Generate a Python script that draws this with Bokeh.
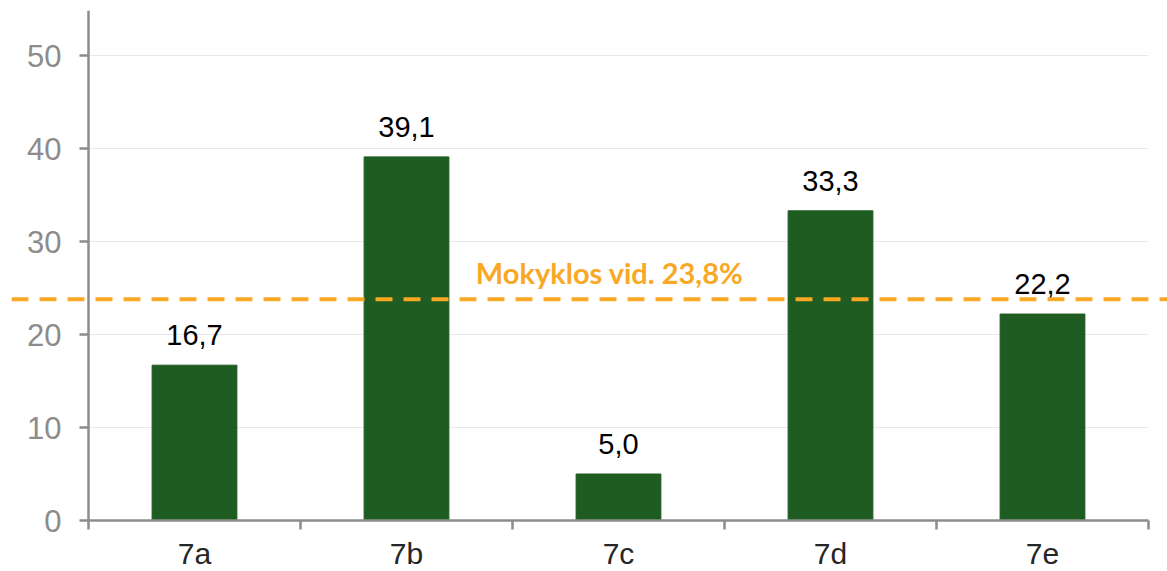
from bokeh.plotting import figure
from bokeh.models import (Range1d, LinearAxis, FixedTicker, Span, ColumnDataSource, Grid)
from bokeh.core.properties import value
from bokeh.embed import file_html
from bokeh.resources import INLINE

categories = ["7a", "7b", "7c", "7d", "7e"]
values = [16.7, 39.1, 5.0, 33.3, 22.2]
y_ticks = [0, 10, 20, 30, 40, 50]
mean_value = 23.8
mean_label = "Mokyklos vid. 23,8%"

GREEN = "#1e5c21"
ORANGE = "#f9a825"
AXIS = "#8c8c8c"

Y_TOP = 54.84
centers = [i + 0.5 for i in range(len(categories))]
labels = [f"{v:.1f}".replace(".", ",") for v in values]
src = ColumnDataSource(dict(x=centers, top=values, label=labels, cat=categories))

p = figure(width=1167, height=571, output_backend="svg", toolbar_location=None,
           x_range=Range1d(-0.3632, 5.0896), y_range=Range1d(-5.484, Y_TOP),
           x_axis_type=None, y_axis_type=None,
           min_border_left=11, min_border_right=0, min_border_top=10, min_border_bottom=0)
p.outline_line_color = None
p.background_fill_color = "white"
p.border_fill_color = "white"

# gridlines
ygrid = Grid(dimension=1, ticker=FixedTicker(ticks=y_ticks[1:]), grid_line_color="#e9e9e9",
             grid_line_width=1, cross_bounds=(0, len(categories)))
p.add_layout(ygrid)

# y axis
yaxis = LinearAxis(fixed_location=0, bounds=(0, Y_TOP), ticker=FixedTicker(ticks=y_ticks, minor_ticks=[]),
                   axis_line_color=AXIS, axis_line_width=2.5,
                   major_tick_line_color=AXIS, major_tick_line_width=2.5,
                   major_tick_out=9, major_tick_in=0, minor_tick_out=0, minor_tick_in=0,
                   major_label_text_font="Liberation Sans", major_label_text_font_size="31px",
                   major_label_text_color=AXIS, major_label_standoff=18)
p.add_layout(yaxis, "left")

# x axis
xaxis = LinearAxis(fixed_location=0, bounds=(0, len(categories)),
                   ticker=FixedTicker(ticks=centers, minor_ticks=list(range(len(categories) + 1))),
                   major_label_overrides={c: cat for c, cat in zip(centers, categories)},
                   axis_line_color=AXIS, axis_line_width=2.5,
                   major_tick_out=0, major_tick_in=0,
                   minor_tick_line_color=AXIS, minor_tick_line_width=2.5,
                   minor_tick_out=9, minor_tick_in=0,
                   major_label_text_font="Liberation Sans", major_label_text_font_size="30px",
                   major_label_text_color="#262626", major_label_standoff=7)
p.add_layout(xaxis, "below")

p.vbar(x="x", top="top", width=0.4, bottom=0, source=src, fill_color=GREEN, line_color=GREEN)

p.text(x="x", y="top", text="label", source=src, text_align="center", text_baseline="alphabetic",
       y_offset=-30, text_font=value("Liberation Sans"), text_font_size="29px", text_color="black")

p.text(x=[2.458], y=[25.6], text=[mean_label], text_align="center", text_baseline="alphabetic",
       y_offset=-10, text_font=value("Lato"), text_font_style="bold", text_font_size="29px",
       text_color=ORANGE)

span = Span(location=mean_value, dimension="width", line_color=ORANGE, line_width=4, line_dash="17 11")
p.add_layout(span)

open("out.html", "w").write(file_html(p, INLINE))
